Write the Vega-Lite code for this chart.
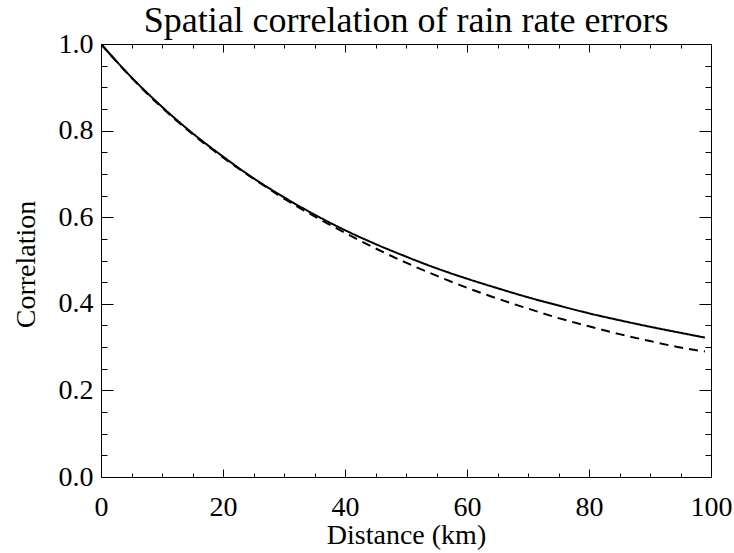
{
  "$schema": "https://vega.github.io/schema/vega-lite/v6.json",
  "width": 610,
  "height": 433,
  "autosize": {"type": "none"},
  "padding": {"left": 101, "top": 44, "right": 23, "bottom": 76},
  "background": "white",
  "config": {"view": {"stroke": null}, "font": "Liberation Serif"},
  "title": {
    "text": "Spatial correlation of rain rate errors",
    "font": "Liberation Serif",
    "fontSize": 36,
    "fontWeight": "normal",
    "color": "black",
    "anchor": "middle",
    "frame": "group",
    "baseline": "alphabetic",
    "offset": 12,
    "dy": 50
  },
  "data": {
    "values": [
      {"d": 0, "r": 1.0, "series": "solid"},
      {"d": 5, "r": 0.923, "series": "solid"},
      {"d": 10, "r": 0.855, "series": "solid"},
      {"d": 15, "r": 0.794, "series": "solid"},
      {"d": 20, "r": 0.740, "series": "solid"},
      {"d": 25, "r": 0.690, "series": "solid"},
      {"d": 30, "r": 0.646, "series": "solid"},
      {"d": 35, "r": 0.606, "series": "solid"},
      {"d": 40, "r": 0.570, "series": "solid"},
      {"d": 45, "r": 0.538, "series": "solid"},
      {"d": 50, "r": 0.509, "series": "solid"},
      {"d": 55, "r": 0.482, "series": "solid"},
      {"d": 60, "r": 0.458, "series": "solid"},
      {"d": 65, "r": 0.436, "series": "solid"},
      {"d": 70, "r": 0.415, "series": "solid"},
      {"d": 75, "r": 0.396, "series": "solid"},
      {"d": 80, "r": 0.378, "series": "solid"},
      {"d": 85, "r": 0.362, "series": "solid"},
      {"d": 90, "r": 0.347, "series": "solid"},
      {"d": 95, "r": 0.333, "series": "solid"},
      {"d": 99, "r": 0.322, "series": "solid"},
      {"d": 0, "r": 1.0, "series": "dashed"},
      {"d": 5, "r": 0.922, "series": "dashed"},
      {"d": 10, "r": 0.853, "series": "dashed"},
      {"d": 15, "r": 0.792, "series": "dashed"},
      {"d": 20, "r": 0.738, "series": "dashed"},
      {"d": 25, "r": 0.689, "series": "dashed"},
      {"d": 30, "r": 0.643, "series": "dashed"},
      {"d": 35, "r": 0.602, "series": "dashed"},
      {"d": 40, "r": 0.564, "series": "dashed"},
      {"d": 45, "r": 0.528, "series": "dashed"},
      {"d": 50, "r": 0.495, "series": "dashed"},
      {"d": 55, "r": 0.465, "series": "dashed"},
      {"d": 60, "r": 0.437, "series": "dashed"},
      {"d": 65, "r": 0.412, "series": "dashed"},
      {"d": 70, "r": 0.389, "series": "dashed"},
      {"d": 75, "r": 0.367, "series": "dashed"},
      {"d": 80, "r": 0.348, "series": "dashed"},
      {"d": 85, "r": 0.330, "series": "dashed"},
      {"d": 90, "r": 0.314, "series": "dashed"},
      {"d": 95, "r": 0.299, "series": "dashed"},
      {"d": 99, "r": 0.290, "series": "dashed"}
    ]
  },
  "layer": [
    {
      "mark": {"type": "line", "color": "black", "strokeWidth": 2, "interpolate": "monotone", "clip": true},
      "encoding": {
        "x": {
          "field": "d", "type": "quantitative",
          "scale": {"domain": [0, 100], "nice": false},
          "axis": {
            "orient": "bottom",
            "values": [0, 5, 10, 15, 20, 25, 30, 35, 40, 45, 50, 55, 60, 65, 70, 75, 80, 85, 90, 95, 100],
            "labelExpr": "datum.value % 20 === 0 ? datum.label : ''",
            "tickSize": {"condition": {"test": "datum.value % 20 === 0", "value": -8}, "value": -4},
            "tickColor": "black", "tickWidth": 1,
            "domainColor": "black", "domainWidth": 1,
            "grid": false,
            "labelFont": "Liberation Serif", "labelFontSize": 28, "labelColor": "black",
            "labelBaseline": "alphabetic", "labelPadding": 46,
            "labelFlush": false, "labelOverlap": false, "labelBound": false,
            "title": "Distance (km)",
            "titleFont": "Liberation Serif", "titleFontSize": 28, "titleFontWeight": "normal", "titleColor": "black",
            "titleBaseline": "alphabetic", "titleY": 66
          }
        },
        "y": {
          "field": "r", "type": "quantitative",
          "scale": {"domain": [0, 1], "nice": false},
          "axis": {
            "orient": "left",
            "values": [0, 0.05, 0.1, 0.15, 0.2, 0.25, 0.3, 0.35, 0.4, 0.45, 0.5, 0.55, 0.6, 0.65, 0.7, 0.75, 0.8, 0.85, 0.9, 0.95, 1.0],
            "labelExpr": "round(datum.value * 100) % 20 === 0 ? format(datum.value, '.1f') : ''",
            "tickSize": {"condition": {"test": "round(datum.value * 100) % 20 === 0", "value": -12}, "value": -6},
            "tickColor": "black", "tickWidth": 1,
            "domainColor": "black", "domainWidth": 1,
            "grid": false,
            "labelFont": "Liberation Serif", "labelFontSize": 28, "labelColor": "black",
            "labelPadding": 20, "labelFlush": false, "labelOverlap": false, "labelBound": false,
            "title": "Correlation",
            "titleFont": "Liberation Serif", "titleFontSize": 28, "titleFontWeight": "normal", "titleColor": "black",
            "titleBaseline": "alphabetic", "titleAlign": "center", "titleAngle": 270,
            "titleX": -67, "titleY": 220
          }
        },
        "strokeDash": {
          "field": "series", "type": "nominal",
          "scale": {"domain": ["solid", "dashed"], "range": [[1, 0], [9, 6]]},
          "legend": null
        }
      }
    },
    {
      "mark": {"type": "line", "opacity": 0},
      "encoding": {
        "x": {
          "field": "d", "type": "quantitative",
          "scale": {"domain": [0, 100], "nice": false},
          "axis": {
            "orient": "top",
            "values": [0, 5, 10, 15, 20, 25, 30, 35, 40, 45, 50, 55, 60, 65, 70, 75, 80, 85, 90, 95, 100],
            "labels": false,
            "tickSize": {"condition": {"test": "datum.value % 20 === 0", "value": -8}, "value": -4},
            "tickColor": "black", "tickWidth": 1,
            "domainColor": "black", "domainWidth": 1,
            "grid": false, "title": null
          }
        },
        "y": {
          "field": "r", "type": "quantitative",
          "scale": {"domain": [0, 1], "nice": false},
          "axis": {
            "orient": "right",
            "values": [0, 0.05, 0.1, 0.15, 0.2, 0.25, 0.3, 0.35, 0.4, 0.45, 0.5, 0.55, 0.6, 0.65, 0.7, 0.75, 0.8, 0.85, 0.9, 0.95, 1.0],
            "labels": false,
            "tickSize": {"condition": {"test": "round(datum.value * 100) % 20 === 0", "value": -12}, "value": -6},
            "tickColor": "black", "tickWidth": 1,
            "domainColor": "black", "domainWidth": 1,
            "grid": false, "title": null
          }
        },
        "detail": {"field": "series", "type": "nominal"}
      }
    }
  ],
  "resolve": {"axis": {"x": "independent", "y": "independent"}}
}
